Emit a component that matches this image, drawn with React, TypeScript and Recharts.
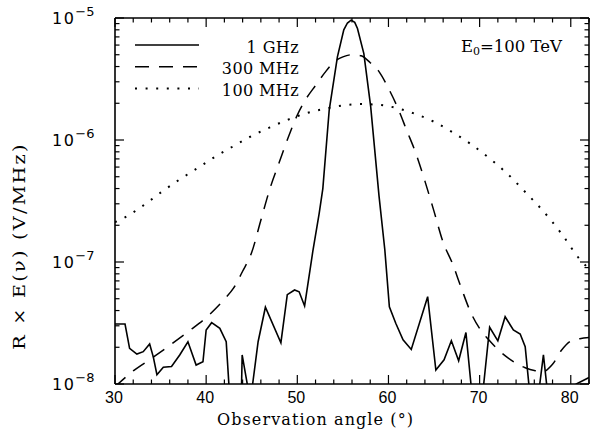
import React from 'react';
import { LineChart, Line, XAxis, YAxis } from 'recharts';

// ---------- data ----------
const solidAngles = [
  30, 31.1, 31.6, 32.4, 33.1, 33.8, 34.2, 34.6, 35.3, 36.2, 37.1, 38.0, 38.9, 39.65, 40.0, 40.6,
  41.5, 42.2, 42.5, 42.6, 43.75, 43.95, 44.55, 44.8, 45.1, 45.7, 46.5, 48.2, 48.9, 49.7, 50.2,
  50.8, 51.7, 52.4, 52.8, 53.5, 54.4, 55.1, 55.5, 55.9, 56.3, 56.6, 57.3, 58.05, 58.96, 59.6,
  60.1, 60.8, 61.6, 62.5, 64.3, 65.2, 66.1, 66.9, 67.7, 68.5, 69.05, 69.2, 70.3, 70.45, 71.1,
  72.0, 72.8, 73.7, 74.45, 75.0, 75.4, 75.5, 76.45, 76.6, 77.0, 77.35, 77.5, 80.45, 80.6, 81.9, 82,
];
const solidValues = [
  3.1e-8, 3.1e-8, 1.96e-8, 1.76e-8, 1.84e-8, 2.13e-8, 1.67e-8, 1.19e-8, 1.37e-8, 1.39e-8, 1.73e-8,
  2.22e-8, 1.43e-8, 1.52e-8, 2.77e-8, 3.18e-8, 2.86e-8, 2.22e-8, 9.8e-9, 3e-9, 3e-9, 1.73e-8,
  9.6e-9, 4e-9, 1.0e-8, 2.22e-8, 4.26e-8, 2.18e-8, 5.4e-8, 5.9e-8, 5.7e-8, 4.36e-8, 1.22e-7,
  2.5e-7, 4e-7, 1.76e-6, 4.8e-6, 8.0e-6, 9.1e-6, 9.6e-6, 9.2e-6, 8.2e-6, 5.1e-6, 1.88e-6, 3.5e-7,
  1.26e-7, 4.3e-8, 3.15e-8, 2.3e-8, 1.92e-8, 5.2e-8, 1.3e-8, 1.58e-8, 2.26e-8, 1.55e-8, 2.64e-8,
  1.0e-8, 3e-9, 3e-9, 1.0e-8, 2.92e-8, 2.26e-8, 3.56e-8, 2.77e-8, 2.57e-8, 2.02e-8, 1.0e-8, 3e-9,
  3e-9, 1.0e-8, 1.73e-8, 1.0e-8, 3e-9, 3e-9, 1.0e-8, 1.12e-8, 1.13e-8,
];

const dashedAngles = [
  30, 32, 34, 36, 38, 40, 42, 43, 44, 45, 46, 47, 48, 49, 50, 51, 52, 53, 54, 55, 56, 57, 58, 59,
  60, 61, 62, 63, 64, 65, 66, 67, 68, 69, 70, 71, 72, 73, 74, 75, 76, 77, 78, 79, 80, 81, 82,
];
const dashedValues = [
  9.5e-9, 1.28e-8, 1.62e-8, 2.07e-8, 2.68e-8, 3.5e-8, 4.95e-8, 6.1e-8, 8.4e-8, 1.2e-7, 2.2e-7,
  4.0e-7, 6.5e-7, 1.05e-6, 1.6e-6, 2.2e-6, 2.8e-6, 3.55e-6, 4.35e-6, 4.8e-6, 5.0e-6, 4.9e-6,
  4.3e-6, 3.6e-6, 2.65e-6, 1.85e-6, 1.2e-6, 7.8e-7, 4.6e-7, 2.6e-7, 1.45e-7, 9.8e-8, 6.1e-8,
  3.9e-8, 2.85e-8, 2.3e-8, 1.92e-8, 1.66e-8, 1.48e-8, 1.36e-8, 1.29e-8, 1.27e-8, 1.45e-8, 1.9e-8,
  2.25e-8, 2.35e-8, 2.4e-8,
];

const dottedAngles = [
  30, 31, 33, 35, 37, 39, 41, 43, 45, 47, 49, 51, 53, 55, 57, 59, 61, 63, 65, 67, 69, 71, 73, 75,
  77, 79, 81, 82,
];
const dottedValues = [
  2.12e-7, 2.3e-7, 2.87e-7, 3.7e-7, 4.7e-7, 5.85e-7, 7.3e-7, 8.9e-7, 1.08e-6, 1.27e-6, 1.47e-6,
  1.66e-6, 1.8e-6, 1.92e-6, 1.97e-6, 1.94e-6, 1.82e-6, 1.63e-6, 1.41e-6, 1.16e-6, 9.3e-7, 7.15e-7,
  5.33e-7, 3.75e-7, 2.6e-7, 1.7e-7, 1.05e-7, 8.8e-8,
];

const seriesNames = ['1 GHz', '300 MHz', '100 MHz'];
const seriesDashes = ['', '14 10', '2 8.6'];

const xTicks = [
  30, 32, 34, 36, 38, 40, 42, 44, 46, 48, 50, 52, 54, 56, 58, 60, 62, 64, 66, 68, 70, 72, 74, 76,
  78, 80, 82,
];
const xMajorTicks = [30, 40, 50, 60, 70, 80];
const yDecadeExponents = [-8, -7, -6, -5];
const yMantissas = [1, 2, 3, 4, 5, 6, 7, 8, 9];

const xTitle = 'Observation angle (°)';
const yTitle = 'R × E(ν) (V/MHz)';

// ---------- helpers ----------
const toPoints = (angles: number[], values: number[]) =>
  angles.map((a, i) => ({ angle: a, value: values[i] }));

const solidData = toPoints(solidAngles, solidValues);
const dashedData = toPoints(dashedAngles, dashedValues);
const dottedData = toPoints(dottedAngles, dottedValues);

const yTicks: number[] = [];
yDecadeExponents.forEach((e, i) => {
  if (i === yDecadeExponents.length - 1) {
    yTicks.push(Math.pow(10, e));
  } else {
    yMantissas.forEach((m) => yTicks.push(m * Math.pow(10, e)));
  }
});

const isMajorY = (v: number) => {
  const l = Math.log10(v);
  return Math.abs(l - Math.round(l)) < 1e-6;
};

const W = 590;
const H = 430;
const MAJOR = 9;
const MINOR = 4.5;
const SANS = 'Liberation Sans, Arial, sans-serif';
const DSANS = 'DejaVu Sans, sans-serif';
const SERIF = 'DejaVu Serif, serif';

const BottomTick = (p: any) => {
  const v = p.payload.value;
  const major = xMajorTicks.includes(v);
  return (
    <g>
      <line x1={p.x} x2={p.x} y1={p.y} y2={p.y - (major ? MAJOR : MINOR)} stroke="#000" strokeWidth={1.2} />
      {major && (
        <text x={p.x - 1} y={p.y + 19} textAnchor="middle" fontFamily={SANS} fontSize={16} fill="#000">
          {v}
        </text>
      )}
    </g>
  );
};

const TopTick = (p: any) => {
  const v = p.payload.value;
  const major = xMajorTicks.includes(v);
  return (
    <line x1={p.x} x2={p.x} y1={p.y} y2={p.y + (major ? MAJOR : MINOR)} stroke="#000" strokeWidth={1.2} />
  );
};

const LeftTick = (p: any) => {
  const v = p.payload.value;
  const major = isMajorY(v);
  const exp = Math.round(Math.log10(v));
  return (
    <g>
      <line x1={p.x} x2={p.x + (major ? MAJOR : MINOR)} y1={p.y} y2={p.y} stroke="#000" strokeWidth={1.2} />
      {major && (
        <text x={p.x - 63} y={p.y + 6} fontFamily={DSANS} fontSize={16} fill="#000">
          <tspan letterSpacing={1.5}>10</tspan>
          <tspan dy={-8} fontSize={13}>{'\u2212' + Math.abs(exp)}</tspan>
        </text>
      )}
    </g>
  );
};

const RightTick = (p: any) => {
  const v = p.payload.value;
  const major = isMajorY(v);
  return (
    <line x1={p.x} x2={p.x - (major ? MAJOR : MINOR)} y1={p.y} y2={p.y} stroke="#000" strokeWidth={1.2} />
  );
};

const axisLine = { stroke: '#000', strokeWidth: 1.6 };

export default function App() {
  return (
    <div style={{ position: 'absolute', left: 0, top: 0, width: W, height: H, background: '#fff' }}>
      <LineChart width={W} height={H} margin={{ top: 17, right: 0, bottom: 0, left: 0 }}>
        <XAxis
          xAxisId="bottom"
          dataKey="angle"
          type="number"
          domain={[30, 82]}
          allowDataOverflow
          ticks={xTicks}
          interval={0}
          height={46}
          tickSize={0}
          tickMargin={0}
          tickLine={false}
          axisLine={axisLine}
          tick={<BottomTick />}
        />
        <XAxis
          xAxisId="top"
          orientation="top"
          dataKey="angle"
          type="number"
          domain={[30, 82]}
          allowDataOverflow
          ticks={xTicks}
          interval={0}
          height={1}
          tickSize={0}
          tickMargin={0}
          tickLine={false}
          axisLine={axisLine}
          tick={<TopTick />}
        />
        <YAxis
          yAxisId="left"
          type="number"
          scale="log"
          domain={[1e-8, 1e-5]}
          allowDataOverflow
          ticks={yTicks}
          interval={0}
          width={115}
          tickSize={0}
          tickMargin={0}
          tickLine={false}
          axisLine={axisLine}
          tick={<LeftTick />}
        />
        <YAxis
          yAxisId="right"
          orientation="right"
          type="number"
          scale="log"
          domain={[1e-8, 1e-5]}
          allowDataOverflow
          ticks={yTicks}
          interval={0}
          width={1}
          tickSize={0}
          tickMargin={0}
          tickLine={false}
          axisLine={axisLine}
          tick={<RightTick />}
        />
        <Line
          xAxisId="top"
          yAxisId="right"
          data={dottedData}
          dataKey="value"
          stroke="none"
          dot={false}
          activeDot={false}
          isAnimationActive={false}
          legendType="none"
        />
        <Line
          xAxisId="bottom"
          yAxisId="left"
          name={seriesNames[0]}
          data={solidData}
          dataKey="value"
          type="linear"
          stroke="#000"
          strokeWidth={1.6}
          dot={false}
          activeDot={false}
          isAnimationActive={false}
        />
        <Line
          xAxisId="bottom"
          yAxisId="left"
          name={seriesNames[1]}
          data={dashedData}
          dataKey="value"
          type="monotone"
          stroke="#000"
          strokeWidth={1.5}
          strokeDasharray={seriesDashes[1]}
          dot={false}
          activeDot={false}
          isAnimationActive={false}
        />
        <Line
          xAxisId="bottom"
          yAxisId="left"
          name={seriesNames[2]}
          data={dottedData}
          dataKey="value"
          type="monotone"
          stroke="#000"
          strokeWidth={2}
          strokeDasharray={seriesDashes[2]}
          dot={false}
          activeDot={false}
          isAnimationActive={false}
        />
      </LineChart>
      <svg
        width={W}
        height={H}
        style={{ position: 'absolute', left: 0, top: 0, pointerEvents: 'none' }}
      >
        {seriesNames.map((name, i) => {
          const y = 45 + i * 21.7;
          return (
            <g key={name}>
              <line
                x1={135}
                x2={199}
                y1={y}
                y2={y}
                stroke="#000"
                strokeWidth={i === 2 ? 2 : 1.5}
                strokeDasharray={seriesDashes[i] || undefined}
              />
              <text
                x={299}
                y={y + 7.5}
                textAnchor="end"
                fontFamily={SERIF}
                fontSize={16}
                letterSpacing={0.4}
                fill="#000"
              >
                {name}
              </text>
            </g>
          );
        })}
        <text x={461} y={52} fontFamily={SERIF} fontSize={16.5} fill="#000">
          E<tspan dy={3} fontSize={11}>0</tspan>
          <tspan dy={-3}>=100 TeV</tspan>
        </text>
        <text
          x={315}
          y={425}
          textAnchor="middle"
          fontFamily={SERIF}
          fontSize={16}
          textLength={196}
          lengthAdjust="spacing"
          fill="#000"
        >
          {xTitle}
        </text>
        <text
          transform="translate(25,246) rotate(-90) scale(1.13,1)"
          textAnchor="middle"
          fontFamily={SERIF}
          fontSize={17}
          letterSpacing={2}
          fill="#000"
        >
          {yTitle}
        </text>
      </svg>
    </div>
  );
}
